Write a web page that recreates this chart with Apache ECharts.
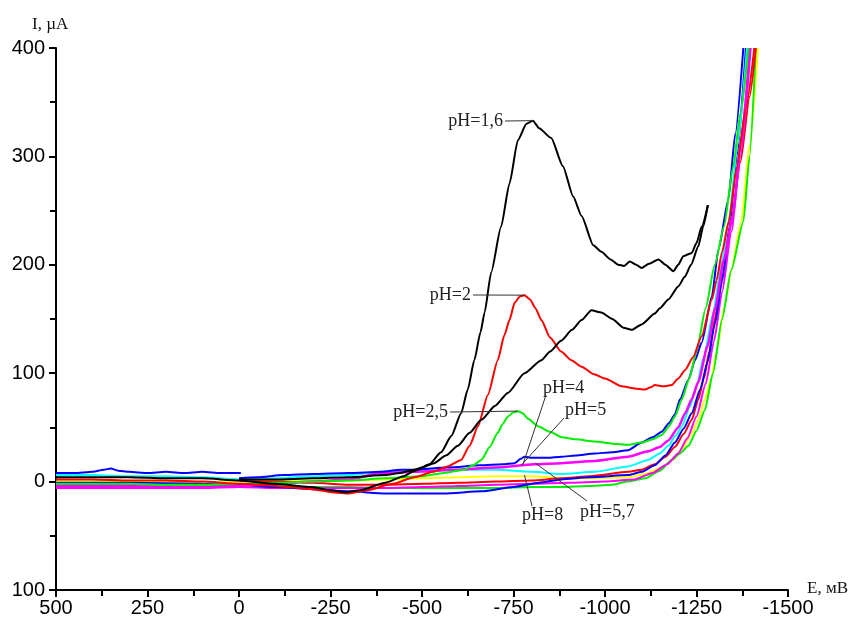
<!DOCTYPE html>
<html>
<head>
<meta charset="utf-8">
<script src="https://cdn.jsdelivr.net/npm/echarts@6/dist/echarts.min.js"></script>
<style>
html,body{margin:0;padding:0;background:#fff;}
#chart{width:857px;height:619px;}
</style>
</head>
<body>
<div id="chart"></div>
<script>
// ---- axis ticks ----
const xTickValues = [500, 250, 0, -250, -500, -750, -1000, -1250, -1500];
const xTickLabels = ['500', '250', '0', '-250', '-500', '-750', '-1000', '-1250', '-1500'];
const yTickValues = [-100, 0, 100, 200, 300, 400];
const yTickLabels = ['100', '0', '100', '200', '300', '400'];

// ---- curves: [E (mV), I (µA)] ----
const ph16Up = [[500,4],[400,4],[300,4],[200,3],[100,3],[0,1],[-100,-2],[-200,-5],[-250,-8],[-290,-10],[-330,-8],[-400,-1],[-450,5],[-480,10],[-520,16],[-552,27],[-580,42],[-607,63],[-625,85],[-643,112],[-660,138],[-671,156],[-689,193],[-716,235],[-739,275],[-762,315],[-785,330],[-803,333],[-820,326],[-853,317],[-885,291],[-913,263],[-936,245],[-968,218],[-990,212],[-1015,205],[-1036,200],[-1052,199],[-1068,203],[-1085,200],[-1100,197],[-1120,201],[-1146,205],[-1165,200],[-1187,194],[-1200,200],[-1214,208],[-1237,211],[-1250,220],[-1264,235],[-1281,255]];
const ph16Down = [[-1281,255],[-1268,235],[-1255,217],[-1235,200],[-1218,189],[-1200,180],[-1173,168],[-1150,160],[-1136,155],[-1100,145],[-1073,140],[-1050,142],[-1020,150],[-990,156],[-963,158],[-936,149],[-910,140],[-880,130],[-850,120],[-826,112],[-780,100],[-735,82],[-700,70],[-662,57],[-630,45],[-598,33],[-565,24],[-533,17],[-500,13],[-478,11],[-440,8],[-400,6],[-300,4],[-200,3],[-100,2],[0,2]];
const ph2Up = [[500,2],[400,2],[300,1],[200,1],[100,0],[0,-2],[-100,-4],[-200,-7],[-260,-10],[-300,-11],[-350,-8],[-420,-2],[-480,4],[-530,9],[-570,14],[-607,20],[-630,33],[-653,51],[-680,80],[-707,112],[-725,135],[-739,149],[-753,165],[-768,171],[-780,172],[-795,168],[-810,160],[-826,149],[-850,133],[-880,120],[-908,112],[-936,106],[-970,99],[-1000,95],[-1045,88],[-1080,86],[-1109,85],[-1125,87],[-1136,89],[-1160,88],[-1182,89],[-1200,95],[-1219,103],[-1241,115],[-1264,134],[-1292,168],[-1305,186],[-1320,212],[-1338,240],[-1360,290],[-1385,345],[-1408,400]];
const ph2Down = [[0,1],[-100,0],[-200,-1],[-300,-3],[-400,-3],[-500,-2],[-600,-1],[-700,0],[-800,1],[-881,3],[-960,5],[-1063,9],[-1100,11],[-1136,16],[-1165,23],[-1191,32],[-1215,44],[-1237,57],[-1255,76],[-1270,95],[-1285,120],[-1300,150],[-1320,190],[-1345,240],[-1370,295],[-1395,355],[-1412,400]];
const ph25Up = [[500,-2],[400,-2],[300,-2],[200,-3],[100,-3],[0,-2],[-100,-1],[-200,0],[-300,1],[-400,3],[-500,5],[-560,8],[-615,11],[-640,15],[-662,20],[-685,32],[-707,45],[-720,53],[-735,60],[-750,64],[-762,65],[-775,63],[-790,58],[-817,51],[-850,46],[-881,41],[-920,39],[-972,37],[-1020,35],[-1063,34],[-1100,36],[-1130,39],[-1155,43],[-1175,51],[-1191,60],[-1210,76],[-1230,95],[-1250,120],[-1275,160],[-1300,200],[-1325,235],[-1350,290],[-1370,340],[-1392,400]];
const ph25Down = [[500,-3],[300,-3],[100,-3],[0,-4],[-100,-4],[-200,-5],[-300,-5],[-400,-6],[-500,-6],[-600,-6],[-700,-6],[-800,-5],[-881,-5],[-950,-4],[-1018,-3],[-1060,0],[-1109,3],[-1150,10],[-1182,20],[-1205,26],[-1228,33],[-1250,47],[-1273,66],[-1295,100],[-1320,150],[-1345,195],[-1378,240],[-1395,300],[-1412,400]];
const ph4Left = [[500,8],[450,8],[400,9],[370,11],[350,12],[330,10],[300,9],[250,8],[200,9],[150,8],[100,9],[50,8],[-5,8]];
const ph4Up = [[0,3],[-50,4],[-122,6],[-200,7],[-300,8],[-388,9],[-442,11],[-480,11],[-570,13],[-660,15],[-720,16],[-753,17],[-770,21],[-780,23],[-800,22],[-844,22],[-881,23],[-920,24],[-972,26],[-1020,27],[-1063,29],[-1100,36],[-1130,41],[-1155,46],[-1175,54],[-1191,62],[-1205,76],[-1228,94],[-1246,112],[-1264,128],[-1292,171],[-1310,214],[-1337,260],[-1356,321],[-1378,400]];
const ph4Down = [[500,-1],[300,-1],[100,-2],[0,-3],[-100,-5],[-200,-7],[-300,-9],[-400,-11],[-478,-11],[-560,-11],[-662,-9],[-750,-5],[-820,-1],[-881,2],[-960,4],[-1063,6],[-1100,9],[-1136,15],[-1165,24],[-1191,36],[-1215,49],[-1237,63],[-1260,85],[-1280,110],[-1300,145],[-1320,185],[-1340,235],[-1360,300],[-1385,400]];
const ph5Up = [[500,-4],[400,-4],[300,-4],[200,-5],[100,-5],[0,-4],[-100,-2],[-200,0],[-300,2],[-388,8],[-480,9],[-600,11],[-700,13],[-807,16],[-881,17],[-972,19],[-1063,23],[-1118,28],[-1150,32],[-1173,38],[-1200,50],[-1219,63],[-1237,76],[-1255,92],[-1280,125],[-1301,160],[-1325,205],[-1349,245],[-1372,315],[-1396,400]];
const ph5Down = [[500,-6],[300,-6],[100,-6],[0,-5],[-100,-6],[-200,-6],[-300,-6],[-400,-6],[-500,-5],[-600,-4],[-700,-3],[-800,-2],[-900,-1],[-1000,0],[-1080,2],[-1130,8],[-1170,16],[-1200,26],[-1225,40],[-1250,60],[-1275,90],[-1298,130],[-1320,175],[-1345,230],[-1370,300],[-1398,400]];
const ph57Up = [[500,6],[400,6],[300,5],[200,5],[100,4],[0,2],[-100,3],[-200,5],[-300,6],[-388,9],[-480,10],[-600,11],[-700,11],[-800,9],[-881,7],[-972,9],[-1063,14],[-1118,20],[-1150,26],[-1173,33],[-1192,42],[-1210,51],[-1232,69],[-1250,88],[-1270,115],[-1295,155],[-1318,200],[-1338,240],[-1362,310],[-1388,400]];
const ph8Up = [[500,0],[400,0],[300,0],[200,0],[100,-1],[0,0],[-100,1],[-200,1],[-300,1],[-400,2],[-500,3],[-600,4],[-700,5],[-800,5],[-881,3],[-960,3],[-1063,4],[-1110,7],[-1155,13],[-1185,20],[-1210,30],[-1235,43],[-1255,57],[-1273,76],[-1290,95],[-1305,120],[-1325,160],[-1345,195],[-1372,240],[-1395,310],[-1418,400]];

// ---- annotations: label text, anchor point on a curve [E, I] ----
const noteTexts = ['pH=1,6', 'pH=2', 'pH=2,5', 'pH=4', 'pH=5', 'pH=8', 'pH=5,7'];
const noteAnchors = [[-803,333],[-780,172],[-762,65],[-776,16],[-771,15],[-780,6],[-810,17]];

const chart = echarts.init(document.getElementById('chart'), null, {renderer: 'canvas'});

function mk(name, data, color, w) {
  return {
    name: name, type: 'line', data: data, showSymbol: false, symbol: 'none',
    smooth: 0.2, smoothMonotone: 'x', clip: true, animation: false,
    lineStyle: {color: color, width: w || 2},
    emphasis: {disabled: true}
  };
}

const series = [
  mk('pH=8', ph8Up, '#ffff00'),
  mk('pH=2,5b', ph25Down, '#00ee00'),
  mk('pH=2b', ph2Down, '#ff0000'),
  mk('pH=5b', ph5Down, '#ff00ff'),
  mk('pH=4b', ph4Down, '#0000ff'),
  mk('pH=5,7', ph57Up, '#00ffff'),
  mk('pH=5', ph5Up, '#ff00ff', 2.5),
  mk('pH=4', ph4Up, '#0000ff'),
  mk('pH=4L', ph4Left, '#0000ff'),
  mk('pH=2,5', ph25Up, '#00ee00'),
  mk('pH=2', ph2Up, '#ff0000'),
  mk('pH=1,6b', ph16Down, '#000000'),
  mk('pH=1,6', ph16Up, '#000000')
];

const axisFont = {fontFamily: '"Liberation Sans", Arial, sans-serif', fontSize: 20, color: '#000'};

chart.setOption({
  animation: false,
  backgroundColor: '#ffffff',
  grid: {left: 56, right: 69, top: 48, bottom: 29, containLabel: false},
  xAxis: {
    type: 'value', min: -1500, max: 500, interval: 250, inverse: true,
    axisLine: {show: true, onZero: false, lineStyle: {color: '#000', width: 2}},
    axisTick: {show: true, inside: false, length: 7, lineStyle: {color: '#000', width: 2}},
    minorTick: {show: true, splitNumber: 2, length: 6, lineStyle: {color: '#000', width: 2}},
    splitLine: {show: false},
    axisLabel: Object.assign({margin: 8, formatter: function (v) {
      const i = xTickValues.indexOf(v); return i >= 0 ? xTickLabels[i] : '';
    }}, axisFont)
  },
  yAxis: {
    type: 'value', min: -100, max: 400, interval: 100,
    axisLine: {show: true, onZero: false, lineStyle: {color: '#000', width: 2}},
    axisTick: {show: true, inside: false, length: 7, lineStyle: {color: '#000', width: 2}},
    minorTick: {show: true, splitNumber: 2, length: 6, lineStyle: {color: '#000', width: 2}},
    splitLine: {show: false},
    axisLabel: Object.assign({margin: 11, formatter: function (v) {
      const i = yTickValues.indexOf(v); return i >= 0 ? yTickLabels[i] : '';
    }}, axisFont)
  },
  series: series
});

// label layout in pixels (text position, alignment, leader start)
const noteLayout = [
  {tx: 503, ty: 121, align: 'right', lx: 505, ly: 121},
  {tx: 471, ty: 295, align: 'right', lx: 473, ly: 295},
  {tx: 448, ty: 412, align: 'right', lx: 450, ly: 412},
  {tx: 543, ty: 388, align: 'left', lx: 546, ly: 395},
  {tx: 565, ty: 410, align: 'left', lx: 564, ly: 418},
  {tx: 522, ty: 515, align: 'left', lx: 532, ly: 506},
  {tx: 580, ty: 512, align: 'left', lx: 587, ly: 501}
];

const serif = '"Liberation Serif", "Times New Roman", serif';
const graphics = [];
noteTexts.forEach(function (t, i) {
  const p = chart.convertToPixel({gridIndex: 0}, noteAnchors[i]);
  const L = noteLayout[i];
  graphics.push({
    type: 'line', silent: true, z: 100,
    shape: {x1: L.lx, y1: L.ly, x2: p[0], y2: p[1]},
    style: {stroke: '#333', lineWidth: 1}
  });
  graphics.push({
    type: 'text', silent: true, z: 101,
    style: {text: t, x: L.tx, y: L.ty, font: '18px ' + serif, fill: '#222',
            textAlign: L.align, textVerticalAlign: 'middle'}
  });
});
graphics.push({type: 'text', silent: true, style: {text: 'I, µA', x: 32, y: 25, font: '17px ' + serif, fill: '#111', textAlign: 'left', textVerticalAlign: 'middle'}});
graphics.push({type: 'text', silent: true, style: {text: 'E, мВ', x: 807, y: 589, font: '17px ' + serif, fill: '#111', textAlign: 'left', textVerticalAlign: 'middle'}});

chart.setOption({graphic: graphics});
</script>
</body>
</html>
